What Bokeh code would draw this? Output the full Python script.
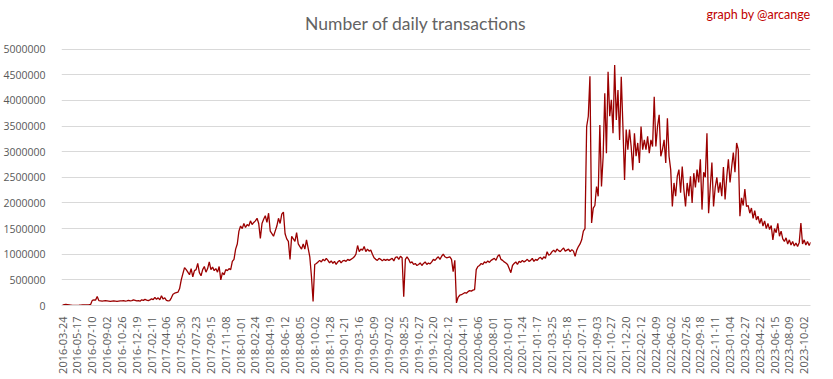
import math
from bokeh.plotting import figure
from bokeh.models import Range1d, FixedTicker, NumeralTickFormatter, Label, ColumnDataSource
from bokeh.embed import file_html
from bokeh.resources import INLINE

# ---------------- data (daily transactions, thousands, one sample every 6 days from 2016-03-24) ----------------
tick_labels = [
    "2016-03-24", "2016-05-17", "2016-07-10", "2016-09-02", "2016-10-26", "2016-12-19",
    "2017-02-11", "2017-04-06", "2017-05-30", "2017-07-23", "2017-09-15", "2017-11-08",
    "2018-01-01", "2018-02-24", "2018-04-19", "2018-06-12", "2018-08-05", "2018-10-02", "2018-11-28",
    "2019-01-21", "2019-03-16", "2019-05-09", "2019-07-02", "2019-08-25", "2019-10-27", "2019-12-20",
    "2020-02-12", "2020-04-11", "2020-06-06", "2020-08-01", "2020-10-01", "2020-11-24",
    "2021-01-17", "2021-03-25", "2021-05-18", "2021-07-11", "2021-09-03", "2021-10-27", "2021-12-20",
    "2022-02-12", "2022-04-09", "2022-06-02", "2022-07-26", "2022-09-18", "2022-11-11",
    "2023-01-04", "2023-02-27", "2023-04-22", "2023-06-15", "2023-08-09", "2023-10-02",
]
days_per_label = 54
days_per_sample = 6

tx_2016_2017 = [
    5, 15, 20, 15, 10, 5, 0, 0, 2,
    3, 5, 8, 10, 10, 12, 14, 15, 20,
    100, 110, 105, 175, 95, 90, 85, 90, 95,
    90, 85, 80, 85, 90, 85, 80, 85, 90,
    90, 95, 85, 90, 100, 90, 95, 110, 100,
    90, 95, 85, 110, 100, 120, 105, 95, 110,
    130, 115, 160, 120, 150, 110, 190, 125, 150,
    100, 90, 95, 150, 220, 240, 250, 260, 330,
    500, 620, 740, 700, 650, 600, 720, 560, 680,
    700, 820, 640, 580, 700, 760, 650, 720, 850,
    700, 750, 680, 720, 650, 760, 500, 640, 600,
    700, 680, 720, 700, 860, 900, 1100, 1200, 1450,
]
tx_2018_2019 = [
    1550, 1500, 1600, 1520, 1580, 1550, 1650, 1580, 1620,
    1650, 1700, 1600, 1310, 1600, 1680, 1750, 1620, 1800,
    1450, 1400, 1350, 1450, 1550, 1700, 1600, 1780, 1820,
    1400, 1300, 1250, 900, 1350, 1300, 1250, 1420, 1200,
    1150, 1100, 1200, 1100, 1280, 1120, 950, 570, 80,
    800, 820, 850, 880, 850, 900, 870, 920, 880,
    830, 870, 820, 860, 800, 850, 880, 830, 870,
    880, 860, 900, 880, 900, 920, 950, 1000, 1170,
    1050, 1100, 1080, 1150, 1050, 1100, 1060, 1080, 1000,
    930, 900, 880, 920, 900, 870, 900, 880, 900,
    880, 900, 920, 870, 940, 950, 900, 960, 930,
    170, 900, 950, 900, 830, 850, 800, 820, 780,
    800, 830, 780, 820, 850, 800, 830, 810, 850,
    900, 880, 920, 950, 900, 960, 1000, 950, 930,
]
tx_2020_2021 = [
    940, 950, 900, 660, 880, 50, 160, 200, 210,
    230, 250, 240, 270, 290, 280, 300, 310, 700,
    760, 780, 820, 800, 850, 830, 870, 840, 880,
    900, 920, 880, 960, 990, 900, 880, 850, 830,
    800, 720, 640, 780, 820, 850, 800, 860, 840,
    880, 850, 870, 900, 860, 880, 920, 860, 900,
    880, 920, 940, 900, 950, 920, 1050, 980, 1000,
    1050, 1080, 1040, 1100, 1070, 1050, 1090, 1120, 1060,
    1080, 1100, 1050, 1090, 1060, 960, 1080, 1150, 1200,
    1280, 1450, 1500, 3490, 3690, 4470, 1610, 1900, 1950,
    2320, 2130, 3520, 2320, 2900, 4140, 2970, 4560, 3690,
    4010, 3360, 4690, 3620, 4200, 3230, 4460, 3500, 2450,
    3430, 3040, 3430, 3100, 2640, 3360, 2910, 3170, 2780,
]
tx_2022_2023 = [
    3490, 3040, 3230, 3040, 3300, 2970, 3230, 3100, 4070,
    3100, 3490, 3720, 2910, 3040, 3230, 2780, 3650, 2910,
    2650, 1930, 2390, 2130, 2520, 2650, 2200, 2710, 2260,
    1930, 2390, 2130, 2520, 2000, 2580, 2300, 2650, 2400,
    2850, 1870, 2600, 2500, 3360, 1800, 2300, 2790, 1930,
    2300, 2500, 2200, 2400, 2130, 2700, 2070, 2500, 2850,
    2400, 2700, 2980, 2600, 3170, 3040, 1740, 2100, 1950,
    2270, 1930, 1950, 1800, 1900, 1700, 1850, 1670, 1740,
    1600, 1700, 1550, 1650, 1500, 1600, 1480, 1560, 1280,
    1500, 1420, 1600, 1350, 1450, 1300, 1250, 1320, 1200,
    1280, 1180, 1250, 1160, 1220, 1150, 1230, 1610, 1200,
    1280, 1180, 1250, 1170, 1230, 1200,
]

y_ticks = [0, 500000, 1000000, 1500000, 2000000, 2500000, 3000000, 3500000, 4000000, 4500000, 5000000]

# ---------------- build ----------------
tx = [v * 1000 for v in tx_2016_2017 + tx_2018_2019 + tx_2020_2021 + tx_2022_2023]
day = [i * days_per_sample for i in range(len(tx))]
src = ColumnDataSource(dict(day=day, tx=tx))

GREY = "#595959"
GRID = "#d9d9d9"
AXFONT = "Open Sans"
TFONT = "Lato"

# frame reaches the top of the canvas so that the title texts sit inside it
PX_PER_M = 51.4          # vertical pixels per million
TOP_GAP_PX = 48.7        # room above the 5 000 000 gridline
y_top = 5000000 + TOP_GAP_PX / PX_PER_M * 1e6

p = figure(width=817, height=376, output_backend="svg", toolbar_location=None,
           x_range=Range1d(-4, 2723), y_range=Range1d(0, y_top),
           min_border_left=55, min_border_right=7, min_border_top=0, min_border_bottom=70)
p.outline_line_color = None
p.background_fill_color = "white"
p.border_fill_color = "white"

p.line("day", "tx", source=src, line_color="#9b0000", line_width=1.3)

# y axis
p.yaxis.ticker = FixedTicker(ticks=y_ticks)
p.yaxis.formatter = NumeralTickFormatter(format="0")
p.yaxis.axis_line_color = None
p.yaxis.major_tick_line_color = None
p.yaxis.minor_tick_line_color = None
p.yaxis.major_label_text_color = GREY
p.yaxis.major_label_text_font = AXFONT
p.yaxis.major_label_text_font_size = "10.5px"
p.yaxis.major_label_standoff = 10
p.ygrid.ticker = FixedTicker(ticks=y_ticks)
p.ygrid.grid_line_color = GRID
p.ygrid.grid_line_width = 1

# x axis
tick_pos = [i * days_per_label for i in range(len(tick_labels))]
p.xaxis.ticker = FixedTicker(ticks=tick_pos)
p.xaxis.major_label_overrides = {t: lab for t, lab in zip(tick_pos, tick_labels)}
p.xaxis.major_label_orientation = math.pi / 2
p.xaxis.axis_line_color = GRID
p.xaxis.major_tick_line_color = None
p.xaxis.minor_tick_line_color = None
p.xaxis.major_label_text_color = GREY
p.xaxis.major_label_text_font = AXFONT
p.xaxis.major_label_text_font_size = "11px"
p.xaxis.major_label_standoff = 5
p.xgrid.grid_line_color = None

# title and credit (inside the top band of the frame)
p.add_layout(Label(x=1286, y=y_top - 23 / PX_PER_M * 1e6, text="Number of daily transactions",
                   text_align="center", text_baseline="middle",
                   text_font=TFONT, text_font_size="17.5px", text_color="#636363"))
p.add_layout(Label(x=2723, y=y_top - 14 / PX_PER_M * 1e6, text="graph by @arcange",
                   text_align="right", text_baseline="middle",
                   text_font=TFONT, text_font_size="12.5px", text_color="#c00000"))

open("out.html", "w").write(file_html(p, INLINE))
